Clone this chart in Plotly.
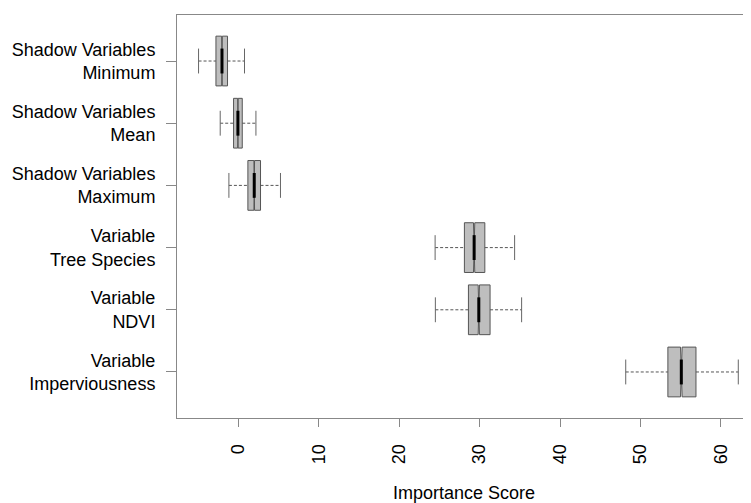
import plotly.graph_objects as go

# Categories, bottom to top (R boxplot order)
categories = ["Variable<br>Imperviousness", "Variable<br>NDVI", "Variable<br>Tree Species",
              "Shadow Variables<br>Maximum", "Shadow Variables<br>Mean", "Shadow Variables<br>Minimum"]
positions = [1, 2, 3, 4, 5, 6]

whisker_low = [48.16, 24.5, 24.47, -1.16, -2.24, -4.93]
q1 = [53.40, 28.61, 28.11, 1.20, -0.58, -2.77]
median = [55.07, 29.90, 29.32, 1.99, -0.04, -2.02]
q3 = [56.89, 31.30, 30.65, 2.77, 0.50, -1.33]
whisker_high = [62.15, 35.22, 34.35, 5.25, 2.20, 0.78]
notch_span = [0.10, 0.08, 0.08, 0.04, 0.03, 0.04]

x_ticks = [0, 10, 20, 30, 40, 50, 60]

BOX_W = 0.8
FONT = "Liberation Sans, Arial, sans-serif"

fig = go.Figure()

# Boxes (notched), no whiskers drawn by plotly
fig.add_trace(go.Box(
    y=positions, q1=q1, median=median, q3=q3,
    lowerfence=q1, upperfence=q3, notchspan=notch_span,
    orientation="h", notched=True, notchwidth=0.5, width=BOX_W,
    whiskerwidth=0, fillcolor="#BEBEBE",
    line=dict(color="#555555", width=1), boxpoints=False,
    hoverinfo="skip", showlegend=False,
))

# Dashed whiskers
wx, wy = [], []
for p, lo, a, b, hi in zip(positions, whisker_low, q1, q3, whisker_high):
    wx += [lo, a, None, b, hi, None]
    wy += [p, p, None, p, p, None]
fig.add_trace(go.Scatter(x=wx, y=wy, mode="lines",
                         line=dict(color="#555555", width=1, dash="3px,2px"),
                         hoverinfo="skip", showlegend=False))

# Staples (caps)
cx, cy = [], []
half_cap = BOX_W / 4
for p, lo, hi in zip(positions, whisker_low, whisker_high):
    cx += [lo, lo, None, hi, hi, None]
    cy += [p - half_cap, p + half_cap, None, p - half_cap, p + half_cap, None]
fig.add_trace(go.Scatter(x=cx, y=cy, mode="lines",
                         line=dict(color="#666666", width=1),
                         hoverinfo="skip", showlegend=False))

# Thick black medians over notch width
mx, my = [], []
for p, m in zip(positions, median):
    mx += [m, m, None]
    my += [p - half_cap, p + half_cap, None]
fig.add_trace(go.Scatter(x=mx, y=my, mode="lines",
                         line=dict(color="black", width=3),
                         hoverinfo="skip", showlegend=False))

fig.update_layout(
    width=743, height=495,
    margin=dict(l=169, r=0, t=7, b=85),
    plot_bgcolor="white", paper_bgcolor="white",
    font=dict(family=FONT, size=18, color="black"),
    showlegend=False,
    xaxis=dict(
        range=[-7.61, 63.73], tickvals=x_ticks, ticktext=[str(t) for t in x_ticks],
        tickangle=-90, ticks="outside", ticklen=8, tickcolor="#888888",
        showline=True, linecolor="#888888", linewidth=1, mirror=True,
        showgrid=False, zeroline=False, ticklabelstandoff=10,
        title=dict(text="Importance Score", standoff=24, font=dict(size=18)),
    ),
    yaxis=dict(
        range=[0.26, 6.74], tickvals=positions, ticktext=categories,
        ticks="outside", ticklen=10, tickcolor="#888888",
        showline=True, linecolor="#888888", linewidth=1, mirror=False,
        showgrid=False, zeroline=False, ticklabelstandoff=7,
    ),
)

fig.write_html("out.html")
